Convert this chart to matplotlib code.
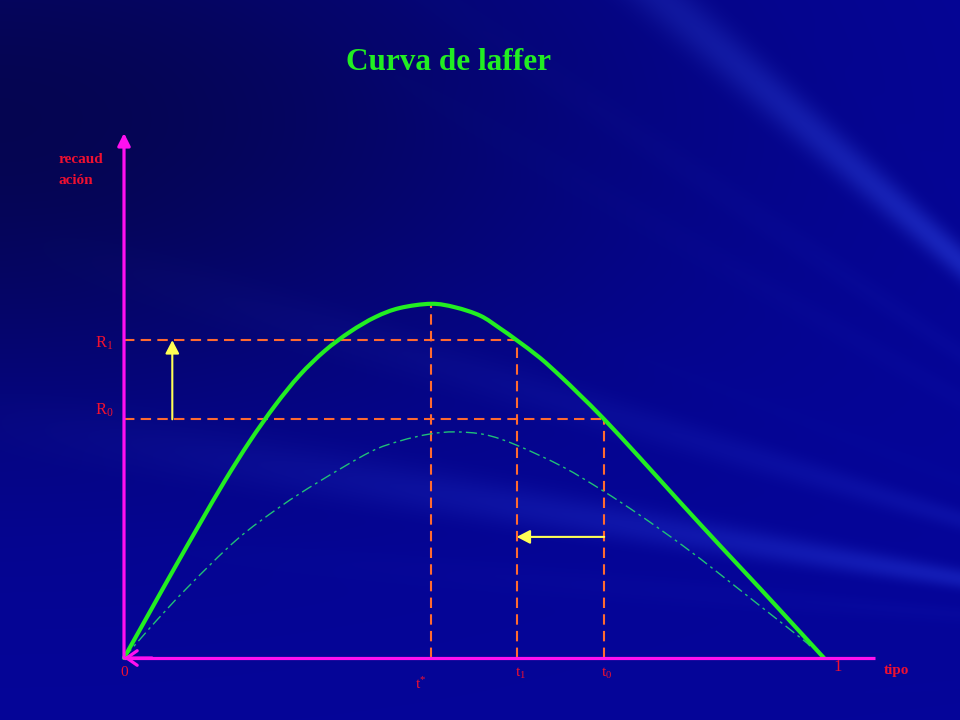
import numpy as np
import matplotlib
matplotlib.use("Agg")
import matplotlib.pyplot as plt
from matplotlib.patches import FancyArrowPatch, PathPatch
from matplotlib.path import Path

plt.rcParams['font.family'] = ['Liberation Serif', 'DejaVu Serif']
plt.rcParams['mathtext.fontset'] = 'custom'
plt.rcParams['mathtext.rm'] = 'Liberation Serif'
plt.rcParams['mathtext.it'] = 'Liberation Serif'

# ---- data (tipo t in [0,1], recaudación R, arbitrary units) ----
laffer_t = [0.0, 0.037, 0.073, 0.109, 0.144, 0.180, 0.216, 0.251, 0.287, 0.323,
            0.359, 0.394, 0.439, 0.473, 0.509, 0.537, 0.561, 0.594, 0.623, 0.651,
            0.686, 0.737, 0.794, 0.851, 0.909, 0.966, 1.0]
laffer_R = [0.0, 0.066, 0.130, 0.193, 0.253, 0.310, 0.361, 0.404, 0.439, 0.466,
            0.487, 0.500, 0.506, 0.501, 0.489, 0.471, 0.454, 0.429, 0.403, 0.376,
            0.341, 0.286, 0.223, 0.161, 0.099, 0.037, 0.0]

shifted_t = [0.0, 0.037, 0.090, 0.161, 0.223, 0.277, 0.351, 0.394, 0.437, 0.473,
             0.516, 0.561, 0.627, 0.684, 0.737, 0.799, 0.851, 0.913, 0.970, 0.980]
shifted_R = [0.0, 0.043, 0.100, 0.169, 0.216, 0.251, 0.294, 0.310, 0.320, 0.323,
             0.319, 0.304, 0.273, 0.239, 0.204, 0.160, 0.120, 0.071, 0.026, 0.017]

t_star, R_peak = 0.439, 0.506
t1, R1 = 0.561, 0.454
t0, R0 = 0.686, 0.341
y_axis_top = 0.75
x_axis_end = 1.073
arrow_up_t = 0.069
arrow_left_R = 0.173

title = "Curva de laffer"
y_label = "recaud\nación"
x_label = "tipo"


def smooth_path(xs, ys):
    """Cubic Bezier path passing through every read point (Catmull-Rom handles)."""
    p = np.column_stack([xs, ys])
    n = len(p)
    verts = [p[0]]
    codes = [Path.MOVETO]
    for i in range(n - 1):
        p0 = p[i - 1] if i > 0 else p[i]
        p1, p2 = p[i], p[i + 1]
        p3 = p[i + 2] if i + 2 < n else p[i + 1]
        c1 = p1 + (p2 - p0) / 6.0
        c2 = p2 - (p3 - p1) / 6.0
        verts += [c1, c2, p2]
        codes += [Path.CURVE4] * 3
    return Path(verts, codes)


# ---- figure ----
W, H = 960, 720
fig = plt.figure(figsize=(9.6, 7.2), dpi=100)

# background
bg = fig.add_axes([0, 0, 1, 1])
bg.set_axis_off()
yy, xx = np.mgrid[0:H, 0:W].astype(float)
cx, cy = 1400.0, 650.0
theta = np.arctan2(yy - cy, xx - cx)
dist = np.hypot(xx - cx, yy - cy)
rays = (0.5 + 0.5 * np.sin(31 * theta + 0.7)) * (0.5 + 0.5 * np.sin(13 * theta + 2.1)) \
       * (0.5 + 0.5 * np.sin(57 * theta + 1.3))
rays = rays ** 1.5
fade = np.clip(1.5 - dist / 1000.0, 0, 1)
dark = np.exp(-(((xx - 0) / 600.0) ** 2 + ((yy - 120) / 300.0) ** 2))
r = 0.02 + 0.10 * rays * fade
g = 0.02 + 0.16 * rays * fade
b = 0.60 + 0.20 * rays * fade - 0.28 * dark
img = np.dstack([np.clip(r, 0, 1), np.clip(g, 0, 1), np.clip(b, 0, 1)])
bg.imshow(img, extent=[0, W, H, 0], aspect='auto', interpolation='bilinear')
bg.set_xlim(0, W)
bg.set_ylim(H, 0)

# main axes: data (0,0) at pixel (124,658), 700 px per unit
ax = fig.add_axes([0, 0, 1, 1])
ax.set_axis_off()
ax.patch.set_alpha(0)
sc = 700.0
ax.set_xlim(-124 / sc, (W - 124) / sc)
ax.set_ylim(-(H - 658) / sc, 658 / sc)

orange = '#FF6a30'
magenta = '#FF10F0'
red = '#F01030'
yellow = '#FFFF55'

# dashed guides
dash = (0, (5, 3))
ax.plot([0, t1], [R1, R1], color=orange, lw=1.5, ls=dash, zorder=2)
ax.plot([0, t0], [R0, R0], color=orange, lw=1.5, ls=dash, zorder=2)
ax.plot([t_star, t_star], [0, R_peak], color=orange, lw=1.5, ls=dash, zorder=2)
ax.plot([t1, t1], [0, R1], color=orange, lw=1.5, ls=dash, zorder=2)
ax.plot([t0, t0], [0, R0], color=orange, lw=1.5, ls=dash, zorder=2)

# curves
ax.add_patch(PathPatch(smooth_path(shifted_t, shifted_R), facecolor='none',
                       edgecolor='#20C078', lw=1.0, ls=(0, (8, 3, 2, 3)), zorder=3))
ax.add_patch(PathPatch(smooth_path(laffer_t, laffer_R), facecolor='none',
                       edgecolor='#22EE22', lw=3.0, joinstyle='round', capstyle='round',
                       zorder=4))

# axes lines
ax.plot([0, x_axis_end], [0, 0], color=magenta, lw=2.3, zorder=5, solid_capstyle='butt')
ax.add_patch(FancyArrowPatch((0, 0), (0, y_axis_top), arrowstyle='-|>,head_length=5,head_width=2.5',
                             color=magenta, lw=2.3, shrinkA=0, shrinkB=0, zorder=5,
                             mutation_scale=1.5))
ax.add_patch(FancyArrowPatch((0.04, 0), (0.0, 0), arrowstyle='->,head_length=5,head_width=3.5',
                             color=magenta, lw=2.3, shrinkA=0, shrinkB=0, zorder=5,
                             mutation_scale=1.5))

# yellow arrows
ax.add_patch(FancyArrowPatch((arrow_up_t, R0), (arrow_up_t, R1),
                             arrowstyle='-|>,head_length=5,head_width=2.6', color=yellow,
                             lw=1.5, shrinkA=0, shrinkB=0, zorder=6, mutation_scale=1.6))
ax.add_patch(FancyArrowPatch((t0, arrow_left_R), (t1, arrow_left_R),
                             arrowstyle='-|>,head_length=5,head_width=2.6', color=yellow,
                             lw=1.5, shrinkA=0, shrinkB=0, zorder=6, mutation_scale=1.6))

# texts
fig.text(449 / W, 1 - 62 / H, title, color='#22EE22', fontsize=22.5, fontweight='bold',
         ha='center', va='center')
ax.text(-65 / sc, 0.721, y_label, color=red, fontsize=11, fontweight='bold',
        ha='left', va='top', linespacing=1.75)
ax.text(-0.015, R1 - 0.005, r'$\mathrm{R}_1$', color=red, fontsize=12, ha='right', va='center')
ax.text(-0.015, R0 + 0.013, r'$\mathrm{R}_0$', color=red, fontsize=12, ha='right', va='center')
ax.text(0.0, -0.02, '0', color=red, fontsize=11, ha='center', va='center')
ax.text(t_star - 0.016, -0.037, r'$\mathrm{t}^{*}$', color=red, fontsize=11, ha='center', va='center')
ax.text(t1 + 0.005, -0.022, r'$\mathrm{t}_1$', color=red, fontsize=11, ha='center', va='center')
ax.text(t0 + 0.004, -0.022, r'$\mathrm{t}_0$', color=red, fontsize=11, ha='center', va='center')
ax.text(1.02, -0.0125, '1', color=red, fontsize=12, ha='center', va='center')
ax.text(1.104, -0.018, x_label, color=red, fontsize=11, fontweight='bold', ha='center', va='center')

fig.savefig('out.png', dpi=100)
